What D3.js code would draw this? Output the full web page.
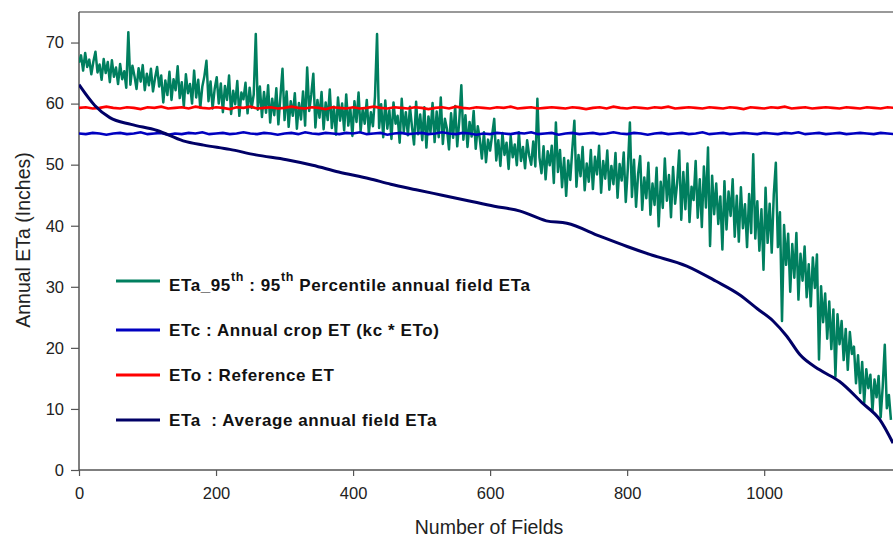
<!DOCTYPE html>
<html>
<head>
<meta charset="utf-8">
<script src="https://cdn.jsdelivr.net/npm/d3@7"></script>
<style>
  body { margin: 0; background: #fff; }
  text { font-family: "Liberation Sans", Arial, sans-serif; }
</style>
</head>
<body>
<div class="chart"></div>
<script>
// ETa_95th, one value every 3 fields (0 .. 1185)
var greenStep = 3;
var eta95 = [
  66.7, 67.9, 65.4, 68.3, 66.0, 67.2, 64.8, 66.9, 68.5, 65.1,
  66.4, 63.9, 67.3, 65.0, 66.8, 63.5, 67.1, 64.4, 65.9, 63.2,
  66.5, 64.0, 65.3, 62.6, 71.7, 63.1, 66.2, 64.5, 62.4, 65.8,
  63.6, 66.3, 62.2, 64.9, 63.0, 65.7, 62.0, 64.2, 66.0, 62.8,
  64.6, 60.2, 63.8, 61.4, 65.2, 60.6, 64.0, 62.2, 66.1, 60.9,
  63.5, 59.5, 64.8, 61.7, 63.2, 60.0, 65.4, 61.0, 63.9, 59.3,
  62.8, 64.5, 67.0, 60.4, 63.6, 59.2, 62.4, 64.3, 60.0, 63.3,
  58.6, 62.9, 60.6, 64.6, 58.3, 62.1, 59.9, 63.7, 58.0, 61.8,
  60.7, 63.4, 58.4, 62.6, 59.3, 61.5, 71.4, 59.0, 62.8, 57.8,
  61.9, 58.5, 63.0, 56.9, 60.8, 58.1, 62.5, 56.6, 61.2, 65.7,
  57.3, 62.0, 56.2, 60.4, 58.0, 61.7, 55.9, 60.1, 57.4, 62.0,
  56.4, 65.9, 58.8, 61.5, 64.9, 56.1, 60.6, 57.7, 61.9, 55.8,
  60.2, 57.3, 62.3, 56.0, 59.5, 54.9, 61.0, 57.2, 60.0, 55.6,
  61.5, 56.4, 59.2, 54.7, 60.4, 57.0, 61.8, 55.5, 59.0, 56.7,
  60.6, 55.1, 58.6, 56.3, 61.2, 71.4, 56.0, 59.9, 54.5, 60.5,
  55.9, 58.9, 54.2, 60.2, 56.7, 58.0, 53.6, 60.8, 55.4, 58.6,
  54.8, 59.5, 56.2, 53.3, 60.3, 55.0, 58.2, 54.0, 59.4, 52.8,
  57.9, 55.3, 60.1, 53.7, 58.7, 54.5, 61.0, 53.4, 57.5, 55.9,
  52.5, 58.4, 54.4, 59.6, 53.0, 57.2, 63.0, 54.1, 58.1, 52.9,
  57.0, 54.6, 58.8, 52.6, 56.3, 54.2, 51.0, 55.3, 50.4, 54.1,
  52.3, 54.9, 57.5, 50.7, 54.0, 49.8, 55.2, 51.6, 53.6, 49.3,
  54.7, 51.2, 53.3, 49.9, 55.3, 50.6, 52.9, 49.4, 54.0, 51.5,
  50.0, 53.8, 49.7, 60.8, 51.2, 48.6, 53.0, 47.6, 52.2, 49.9,
  53.1, 47.0, 56.9, 48.8, 52.4, 46.3, 51.1, 44.9, 50.7, 47.5,
  52.6, 57.2, 46.4, 51.6, 48.1, 52.9, 45.8, 50.2, 47.2, 52.4,
  46.0, 51.3, 48.4, 53.1, 45.4, 50.6, 47.7, 52.3, 45.9, 49.8,
  46.8, 51.9, 44.6, 50.1, 47.4, 52.0, 43.9, 49.4, 56.9, 44.7,
  50.8, 43.1, 48.5, 51.4, 42.6, 47.9, 44.5, 50.3, 41.8, 46.9,
  43.4, 49.5, 39.9, 47.2, 42.9, 51.0, 44.1, 48.3, 41.4, 49.6,
  43.6, 47.0, 52.3, 41.0, 48.8, 42.7, 50.2, 40.6, 46.4, 44.2,
  50.6, 41.3, 47.6, 39.8, 49.7, 43.0, 52.8, 36.7, 48.2, 41.9,
  46.9, 40.3, 44.8, 36.1, 47.3, 39.4, 45.6, 41.6, 47.6, 38.2,
  44.9, 37.4, 46.3, 39.6, 43.5, 36.5, 45.2, 38.8, 51.7, 37.9,
  44.0, 35.9, 42.7, 32.8, 46.2, 37.2, 43.6, 35.6, 45.1, 50.3,
  36.5, 42.2, 24.4, 40.1, 33.6, 38.7, 29.2, 37.0, 31.5, 38.8,
  27.9, 35.4, 31.0, 36.6, 28.3, 33.7, 26.8, 34.8, 29.8, 35.3,
  18.1, 30.1, 24.2, 28.9, 21.5, 27.6, 19.8, 26.3, 15.3, 25.5,
  20.6, 24.4, 18.0, 23.1, 16.4, 22.6, 19.0, 20.2, 14.2, 18.8,
  12.6, 17.7, 11.0, 16.5, 13.4, 15.6, 9.6, 14.8, 11.9, 15.4,
  8.6, 13.7, 20.5, 10.1, 12.3, 8.2
];

// ETo and ETc, one value every 10 fields (0 .. 1190)
var flatStep = 10;
var eto = [
  59.3, 59.4, 59.2, 59.3, 59.5, 59.3, 59.2, 59.4, 59.3, 59.1,
  59.4, 59.3, 59.5, 59.2, 59.3, 59.4, 59.2, 59.5, 59.3, 59.2,
  59.4, 59.3, 59.1, 59.4, 59.3, 59.5, 59.2, 59.3, 59.4, 59.2,
  59.3, 59.5, 59.3, 59.2, 59.4, 59.3, 59.1, 59.4, 59.3, 59.2,
  59.4, 59.2, 59.3, 59.5, 59.3, 59.2, 59.4, 59.3, 59.2, 59.4,
  59.3, 59.1, 59.3, 59.4, 59.2, 59.5, 59.3, 59.2, 59.4, 59.3,
  59.2, 59.4, 59.3, 59.5, 59.2, 59.3, 59.4, 59.2, 59.3, 59.4,
  59.3, 59.2, 59.4, 59.3, 59.1, 59.3, 59.4, 59.2, 59.5, 59.3,
  59.2, 59.4, 59.3, 59.2, 59.4, 59.3, 59.5, 59.2, 59.3, 59.4,
  59.3, 59.2, 59.4, 59.3, 59.2, 59.4, 59.3, 59.1, 59.4, 59.3,
  59.2, 59.4, 59.3, 59.5, 59.2, 59.3, 59.4, 59.2, 59.3, 59.4,
  59.3, 59.2, 59.4, 59.3, 59.2, 59.4, 59.3, 59.2, 59.4, 59.3
];
var etc = [
  55.1, 55.0, 55.2, 55.1, 54.9, 55.1, 55.2, 55.0, 55.1, 55.3,
  55.0, 55.1, 55.2, 54.9, 55.1, 55.0, 55.2, 55.1, 55.3, 55.0,
  55.1, 55.2, 55.0, 55.1, 55.3, 55.1, 55.0, 55.2, 55.1, 54.9,
  55.1, 55.2, 55.0, 55.3, 55.1, 55.0, 55.2, 55.1, 55.0, 55.2,
  55.1, 55.3, 55.0, 55.1, 55.2, 54.9, 55.1, 55.2, 55.0, 55.1,
  55.2, 55.0, 55.1, 55.3, 55.1, 55.0, 55.2, 55.1, 54.9, 55.1,
  55.0, 55.2, 55.1, 55.0, 55.2, 55.1, 55.3, 55.0, 55.1, 55.2,
  54.9, 55.1, 55.2, 55.0, 55.1, 55.2, 55.0, 55.1, 55.3, 55.1,
  55.0, 55.2, 55.1, 54.9, 55.1, 55.2, 55.0, 55.1, 55.2, 55.0,
  55.1, 55.3, 55.0, 55.1, 55.2, 55.0, 55.1, 55.2, 55.1, 55.0,
  55.2, 55.1, 55.0, 55.2, 55.1, 55.3, 55.0, 55.1, 55.2, 55.0,
  55.1, 55.2, 55.0, 55.1, 55.2, 55.1, 55.0, 55.2, 55.1, 55.0
];

// ETa average: [field, inches]
var etaAvg = [
  [0, 63.1], [23, 59.7], [45, 57.7], [76, 56.6], [114, 55.6], [152, 53.9],
  [182, 53.2], [220, 52.5], [258, 51.6], [303, 50.8], [341, 49.9], [379, 48.8],
  [424, 47.7], [455, 46.8], [492, 45.9], [530, 45.0], [568, 44.1], [606, 43.2],
  [644, 42.4], [682, 40.8], [712, 40.4], [760, 38.3], [800, 36.6], [833, 35.3],
  [887, 33.4], [930, 30.9], [964, 28.7], [990, 26.4], [1013, 24.4], [1033, 21.9],
  [1052, 18.9], [1081, 16.4], [1110, 14.5], [1144, 10.9], [1169, 8.2], [1188, 4.4]
];

var xTicks = [0, 200, 400, 600, 800, 1000];
var yTicks = [0, 10, 20, 30, 40, 50, 60, 70];

var legendItems = [
  {color: '#007f5f', y: 281, base: 10, parts: [['ETa_95', 0], ['th', 1], [' : 95', 0], ['th', 1], [' Percentile annual field ETa', 0]]},
  {color: '#0000c0', y: 330, base: 6, parts: [['ETc : Annual crop ET (kc * ETo)', 0]]},
  {color: '#ff0000', y: 375, base: 6, parts: [['ETo : Reference ET', 0]]},
  {color: '#000066', y: 420, base: 6, parts: [['ETa  : Average annual field ETa', 0]]}
];

var width = 893, height = 537;
var plot = {left: 79, right: 893, top: 12, bottom: 470};

var x = d3.scaleLinear().domain([0, 1188]).range([plot.left, plot.right]);
var y = d3.scaleLinear().domain([0, 75]).range([plot.bottom, plot.top]);

var svg = d3.select('.chart')
            .append('svg')
            .attr('width', width)
            .attr('height', height);

svg.append('defs').append('clipPath')
   .attr('id', 'clip')
   .append('rect')
   .attr('x', plot.left).attr('y', plot.top)
   .attr('width', plot.right - plot.left).attr('height', plot.bottom - plot.top);

// top frame line
svg.append('line')
   .attr('x1', plot.left).attr('x2', plot.right)
   .attr('y1', plot.top).attr('y2', plot.top)
   .attr('stroke', '#777').attr('stroke-width', 1.5);

// axes
var xAxis = d3.axisBottom(x).tickValues(xTicks).tickFormat(d3.format('d')).tickSize(6).tickPadding(11);
var yAxis = d3.axisLeft(y).tickValues(yTicks).tickSize(8).tickPadding(7);

var gx = svg.append('g')
            .attr('transform', 'translate(0,' + plot.bottom + ')')
            .call(xAxis);
var gy = svg.append('g')
            .attr('transform', 'translate(' + plot.left + ',0)')
            .call(yAxis);

[gx, gy].forEach(function(g) {
  g.select('.domain').attr('stroke', '#555').attr('stroke-width', 1.5);
  g.selectAll('.tick line').attr('stroke', '#555').attr('stroke-width', 1.2);
  g.selectAll('.tick text')
   .attr('fill', '#222')
   .style('font-size', '16.5px')
   .style('font-family', '"Liberation Sans", Arial, sans-serif');
});
gx.select('.domain').attr('d', 'M' + plot.left + ',0H' + plot.right);
gy.select('.domain').attr('d', 'M0,' + plot.top + 'V' + plot.bottom);

// axis titles
svg.append('text')
   .attr('x', 489).attr('y', 534)
   .attr('text-anchor', 'middle')
   .attr('fill', '#222')
   .style('font-size', '19.5px')
   .text('Number of Fields');

svg.append('text')
   .attr('transform', 'translate(30,240) rotate(-90)')
   .attr('text-anchor', 'middle')
   .attr('fill', '#222')
   .style('font-size', '19.5px')
   .text('Annual ETa (Inches)');

// series
var lines = svg.append('g').attr('clip-path', 'url(#clip)');
var line = d3.line().x(d => x(d[0])).y(d => y(d[1]));

lines.append('path')
     .datum(eta95.map((v, i) => [i * greenStep, v]))
     .attr('d', line)
     .attr('fill', 'none')
     .attr('stroke', '#007f5f')
     .attr('stroke-width', 2.5)
     .attr('stroke-linejoin', 'round');

lines.append('path')
     .datum(etc.map((v, i) => [i * flatStep, v]))
     .attr('d', line)
     .attr('fill', 'none')
     .attr('stroke', '#0000c0')
     .attr('stroke-width', 2.6);

lines.append('path')
     .datum(eto.map((v, i) => [i * flatStep, v]))
     .attr('d', line)
     .attr('fill', 'none')
     .attr('stroke', '#ff0000')
     .attr('stroke-width', 2.6);

lines.append('path')
     .datum(etaAvg)
     .attr('d', d3.line().curve(d3.curveMonotoneX).x(d => x(d[0])).y(d => y(d[1])))
     .attr('fill', 'none')
     .attr('stroke', '#000066')
     .attr('stroke-width', 3);

// legend
var legend = svg.selectAll('.legend')
                .data(legendItems)
                .enter().append('g')
                .attr('class', 'legend')
                .attr('transform', d => 'translate(116,' + d.y + ')');

legend.append('line')
      .attr('x1', 0).attr('x2', 44)
      .attr('stroke', d => d.color)
      .attr('stroke-width', 3);

var lt = legend.append('text')
               .attr('x', 53)
               .attr('y', d => d.base)
               .attr('fill', '#111')
               .style('font-size', '17px')
               .style('font-weight', 'bold')
               .style('letter-spacing', '0.6px')
               .style('white-space', 'pre');

lt.each(function(d) {
  var t = d3.select(this);
  d.parts.forEach(function(p) {
    var s = t.append('tspan').text(p[0]);
    if (p[1]) s.attr('baseline-shift', '10px').style('font-size', '12.5px');
  });
});
</script>
</body>
</html>
